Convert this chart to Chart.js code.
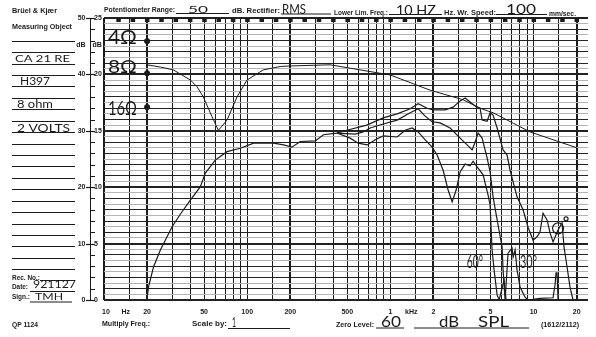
<!DOCTYPE html>
<html>
<head>
<meta charset="utf-8">
<title>CA 21 RE - frequency response</title>
<script src="https://cdn.jsdelivr.net/npm/chart.js@4.4.1/dist/chart.umd.min.js"></script>
<style>
  html, body { margin: 0; padding: 0; background: #fff; }
  #chart { display: block; }
</style>
</head>
<body>
<canvas id="chart" width="596" height="337"></canvas>
<script>
// values (dB on the 50 dB pot scale, Hz)
const freqTickValues = [10, 20, 50, 100, 200, 500, 1000, 2000, 5000, 10000, 20000];
const freqTickLabels = ['10', '20', '50', '100', '200', '500', '1', '2', '5', '10', '20'];
const levelTicks = [0, 10, 20, 30, 40, 50];

// impedance trace
const impFreq = [20, 24.8, 30.5, 40.1, 44.7, 49.4, 56.8, 62.9, 66, 72.3, 84.9, 99.7, 129.5, 170.2, 200, 380, 524, 997, 1895, 3221, 4233, 5217, 9454, 20000];
const impLevel = [41.7, 41.3, 40.8, 39.0, 37.8, 36.0, 32.5, 30.1, 30.7, 31.9, 36.0, 39.0, 40.8, 41.4, 41.5, 41.7, 41.1, 39.9, 37.2, 35.5, 34.0, 33.2, 29.8, 27.0];

// calibration dots at 20 Hz
const calibFreq = [20, 20, 20];
const calibLevel = [45.9, 40.2, 34.2];
const calibLabels = ['4Ω', '8Ω', '16Ω'];

// common low frequency part of the response
const lowFreq = [20, 20.5, 22.2, 24.8, 29.9, 34.1, 40.1, 47.1, 51, 59.9, 72.3, 89.5, 110.8, 152.9, 179.5, 205, 235, 299, 341, 423];
const lowLevel = [0.4, 2.4, 5.9, 8.9, 13.0, 15.2, 17.7, 20.1, 22.5, 24.8, 26.3, 26.9, 27.8, 27.8, 27.5, 27.1, 28.1, 28.2, 29.3, 29.6];

// 0 deg
const zeroFreq = [497, 684, 891, 1115, 1375, 1563, 1806, 1990, 2412, 2744, 3070, 3327, 3605, 3906, 4233, 4372, 4737, 4972, 5217, 5565, 6127, 6534, 6855, 7669, 8447, 9152, 9920, 10580, 11100, 11650, 12420, 13040, 13680, 14830, 15810, 16320, 17130, 17970, 18870];
const zeroLevel = [30.1, 31.0, 32.3, 33.0, 33.9, 34.8, 34.0, 33.7, 33.7, 34.2, 35.3, 35.8, 35.1, 34.4, 34.0, 31.9, 31.7, 33.2, 32.8, 30.5, 26.6, 25.7, 23.0, 18.3, 16.0, 12.9, 10.6, 11.2, 12.1, 15.4, 14.2, 11.9, 10.3, 12.4, 13.7, 9.4, 5.9, 2.3, 0];

// 30 deg
const thirtyFreq = [423, 568, 646, 723, 891, 1115, 1375, 1563, 1750, 1957, 2226, 2614, 3070, 3436, 3723, 3906, 4100, 4372, 4737, 4972, 5217, 5565, 6030, 6127, 6326, 6637, 7079, 7194, 7428, 7669, 8051, 8723, 9152, 11100, 13680, 14130, 14360, 14590, 14830, 16000];
const thirtyLevel = [29.6, 29.4, 29.8, 30.5, 31.2, 31.9, 33.2, 33.9, 32.6, 31.6, 31.4, 30.5, 28.7, 27.5, 26.6, 28.0, 29.6, 28.7, 25.2, 22.7, 18.3, 14.2, 9.4, 5.3, 0, 8.3, 9.2, 7.6, 8.9, 5.3, 2.3, 0.5, 0, 0.3, 0.4, 2.7, 4.8, 4.8, 0, 0];

// 60 deg
const sixtyFreq = [423, 524, 596, 689, 783, 891, 1115, 1269, 1419, 1563, 1750, 1957, 2121, 2336, 2531, 2700, 2879, 3070, 3327, 3605, 3783, 4034, 4443, 4814, 4972, 5133, 5302, 5565, 5748, 6226, 6429];
const sixtyLevel = [29.6, 28.7, 27.8, 27.5, 28.4, 29.1, 28.9, 30.1, 30.5, 29.8, 28.4, 27.1, 25.7, 23.0, 19.5, 17.4, 19.5, 22.7, 24.1, 23.8, 24.6, 23.6, 22.2, 18.6, 16.8, 8.9, 5.3, 0.9, 0, 3.5, 0];

const pairs = (fs, vs) => fs.map((f, i) => ({ x: f, y: vs[i] }));

// log paper grid lines
const gridFreqs = [];
[10, 100, 1000, 10000].forEach(d => {
  [1, 1.5, 2, 3, 4, 5, 6, 7, 8, 9].forEach(m => {
    if (d * m <= 20000) gridFreqs.push(d * m);
  });
});
gridFreqs.push(20000);
const thickFreqs = [10, 20, 200, 2000, 20000];
const dbLines = [];
for (let v = 0; v <= 50; v++) dbLines.push(v);

const INK = '#1b1b1b';
const PRINT = 'bold 7px "Liberation Sans", Arial, sans-serif';
const HAND = '400 12px Lato, "Open Sans", sans-serif';

// draw text squeezed/stretched into x0..x1 on a baseline
function fitText(c, text, x0, x1, base, font) {
  c.font = font;
  const w = c.measureText(text).width;
  c.save();
  c.translate(x0, base);
  c.scale((x1 - x0) / w, 1);
  c.textAlign = 'left';
  c.textBaseline = 'alphabetic';
  c.fillText(text, 0, 0);
  c.restore();
}

function hline(c, x0, x1, y, w) {
  c.lineWidth = w || 1;
  c.beginPath();
  c.moveTo(x0, y);
  c.lineTo(x1, y);
  c.stroke();
}

const handSize = px => HAND.replace('12px', px + 'px');

const paperPlugin = {
  id: 'paper',
  beforeDatasetsDraw(chart) {
    const c = chart.ctx;
    const { top } = chart.chartArea;
    const xs = chart.scales.x;
    c.save();
    c.fillStyle = INK;
    // little time marks along the top edge
    for (let k = 1; k <= 33; k++) {
      const px = xs.getPixelForValue(10 * Math.pow(10, k / 10));
      if (px < chart.chartArea.right - 3) c.fillRect(px - 2, top, 4.5, 4);
    }
    c.restore();
  },
  afterDraw(chart) {
    const c = chart.ctx;
    const { left, top, bottom } = chart.chartArea;
    const xs = chart.scales.x, ys = chart.scales.y;
    c.save();
    c.fillStyle = INK;
    c.strokeStyle = INK;

    // left level axis (50 dB / 25 dB)
    const ax = left - 14;
    c.lineWidth = 1;
    c.beginPath();
    c.moveTo(ax + 0.5, top);
    c.lineTo(ax + 0.5, bottom);
    c.stroke();
    for (let v = 0; v <= 50; v += 2) {
      const py = Math.round(ys.getPixelForValue(v)) + 0.5;
      if (v % 10 === 0) hline(c, ax - 4, ax + 5, py, 1.2);
      else hline(c, ax, ax + 5, py, 1);
    }
    c.font = PRINT;
    c.textBaseline = 'middle';
    levelTicks.forEach(v => {
      const py = ys.getPixelForValue(v);
      c.textAlign = 'right';
      c.fillText(String(v), ax - 4.5, py);
      c.textAlign = 'left';
      c.fillText(String(v / 2), ax + 4, py);
    });
    c.textAlign = 'right';
    c.fillText('dB', ax - 4.5, 45);
    c.textAlign = 'left';
    c.fillText('dB', ax + 2.5, 45);

    // frequency labels
    c.textAlign = 'center';
    c.textBaseline = 'alphabetic';
    freqTickValues.forEach((f, i) => {
      let px = xs.getPixelForValue(f);
      if (f === 10) px += 2;
      c.fillText(freqTickLabels[i], px, 314);
    });
    c.fillText('Hz', xs.getPixelForValue(14.2), 314);
    c.fillText('kHz', xs.getPixelForValue(1400), 314);

    // header of the recorder paper
    fitText(c, 'Brüel & Kjær', 12, 57, 12.5, PRINT);
    fitText(c, 'Measuring Object', 12, 72, 28.5, PRINT);
    fitText(c, 'Potentiometer Range:', 104, 175, 12.3, PRINT);
    fitText(c, 'dB. Rectifier:', 232, 280, 12.7, PRINT);
    fitText(c, 'Lower Lim. Freq.:', 334, 388, 15, PRINT);
    fitText(c, 'Hz. Wr. Speed:', 444, 496, 15.2, PRINT);
    fitText(c, 'mm/sec.', 549, 576, 15.5, PRINT);
    hline(c, 176, 229, 13.5, 1);
    hline(c, 281, 331, 14, 1);
    hline(c, 389, 442, 14.5, 1);
    hline(c, 496, 547, 14.5, 1);
    fitText(c, '50', 188, 208, 12.5, handSize(10));
    fitText(c, 'RMS', 282, 306, 14, handSize(14));
    fitText(c, '10 HZ', 396, 436, 14.5, handSize(14));
    fitText(c, '100', 506, 536, 14, handSize(13));

    // measuring object ruled lines
    for (let k = 0; k <= 20; k++) hline(c, 12, 75, Math.round(40.7 + k * 11.43) + 0.5, 1);
    fitText(c, 'CA 21 RE', 15, 70, 62, handSize(10));
    fitText(c, 'H397', 20, 50, 85, handSize(11));
    fitText(c, '8 ohm', 17, 53, 107.5, handSize(11));
    fitText(c, '2 VOLTS', 17, 70, 132, handSize(12));

    fitText(c, 'Rec. No.:', 12, 40, 279.5, PRINT);
    hline(c, 40, 75, 280.5, 1);
    fitText(c, 'Date:', 12, 28, 288.5, PRINT);
    hline(c, 30, 75, 291.5, 1);
    fitText(c, '921127', 33, 76, 288, handSize(11));
    fitText(c, 'Sign.:', 12, 30, 298.5, PRINT);
    hline(c, 30, 72, 302, 1);
    fitText(c, 'TMH', 35, 63, 300, handSize(9));

    // footer
    fitText(c, 'QP 1124', 12, 38, 326.5, PRINT);
    fitText(c, 'Multiply Freq.:', 102, 150, 325.5, PRINT);
    fitText(c, 'Scale by:', 192, 227, 325.5, PRINT);
    hline(c, 228, 290, 328.5, 1);
    fitText(c, '1', 232, 236, 327, handSize(13));
    fitText(c, 'Zero Level:', 336, 374, 326.7, PRINT);
    hline(c, 376, 404, 328, 1);
    hline(c, 414, 529, 328, 1);
    fitText(c, '60', 381, 401, 327, handSize(16));
    fitText(c, 'dB', 439, 459, 327, handSize(16));
    fitText(c, 'SPL', 478, 509, 327, handSize(16));
    fitText(c, '(1612/2112)', 541, 579, 327, PRINT);

    // impedance calibration labels
    const calOffsets = [3, 0, 8];
    calibLabels.forEach((t, i) => {
      const py = ys.getPixelForValue(calibLevel[i]) + calOffsets[i];
      fitText(c, t, 108, 137, py, handSize(i === 1 ? 18 : 19));
    });

    // angle notes
    const noteY = ys.getPixelForValue(5.6);
    fitText(c, '60°', xs.getPixelForValue(3420), xs.getPixelForValue(4440), noteY, handSize(18));
    fitText(c, '30°', xs.getPixelForValue(8050), xs.getPixelForValue(10580), noteY, handSize(18));
    const cx = xs.getPixelForValue(14830), cy = ys.getPixelForValue(12.7);
    c.lineWidth = 1.2;
    c.beginPath();
    c.arc(cx, cy, 5.5, 0, Math.PI * 2);
    c.stroke();
    c.beginPath();
    c.arc(cx + 8, cy - 9.5, 2, 0, Math.PI * 2);
    c.stroke();
    c.restore();
  }
};

const lineSet = (fs, vs, w) => ({
  data: pairs(fs, vs),
  showLine: true,
  borderColor: INK,
  borderWidth: w,
  pointRadius: 0,
  tension: 0
});

const ctx = document.getElementById('chart').getContext('2d');
const chart = new Chart(ctx, {
  type: 'scatter',
  data: {
    datasets: [
      lineSet(impFreq, impLevel, 1),
      lineSet(lowFreq.concat(zeroFreq), lowLevel.concat(zeroLevel), 1.2),
      lineSet(thirtyFreq, thirtyLevel, 1.2),
      lineSet(sixtyFreq, sixtyLevel, 1.2),
      {
        data: pairs(calibFreq, calibLevel),
        pointRadius: 2.6,
        pointBackgroundColor: INK,
        pointBorderColor: INK,
        showLine: false
      }
    ]
  },
  options: {
    responsive: false,
    animation: false,
    devicePixelRatio: 1,
    layout: { padding: { left: 104, right: 8, top: 18, bottom: 37 } },
    plugins: { legend: { display: false }, tooltip: { enabled: false } },
    scales: {
      x: {
        type: 'logarithmic',
        min: 10,
        max: 24000,
        afterBuildTicks: s => { s.ticks = gridFreqs.map(v => ({ value: v })); },
        ticks: { display: false },
        border: { display: false },
        grid: {
          drawTicks: false,
          color: INK,
          lineWidth: c => (thickFreqs.includes(c.tick.value) ? 2 : 1)
        }
      },
      y: {
        type: 'linear',
        min: 0,
        max: 50,
        afterBuildTicks: s => { s.ticks = dbLines.map(v => ({ value: v })); },
        ticks: { display: false },
        border: { display: false },
        grid: {
          drawTicks: false,
          color: c => (c.tick.value % 2 === 0 ? '#222' : '#b4b4b4'),
          lineWidth: c => (c.tick.value % 10 === 0 ? 2 : 1)
        }
      }
    }
  },
  plugins: [paperPlugin]
});
</script>
</body>
</html>
